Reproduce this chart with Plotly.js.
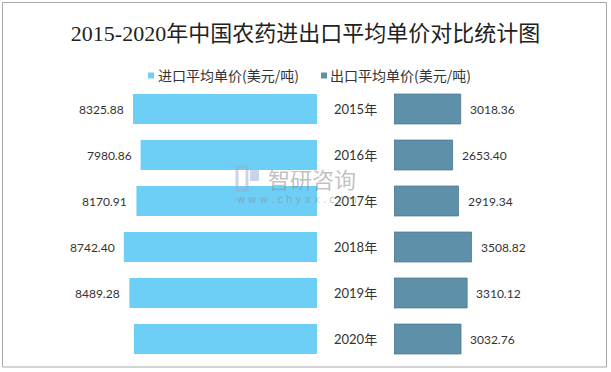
<!DOCTYPE html>
<html><head><meta charset="utf-8">
<script src="https://cdn.plot.ly/plotly-3.0.1.min.js"></script>
<style>html,body{margin:0;padding:0;background:#fff}#chart{width:611px;height:372px}</style>
</head><body><div id="chart"></div>
<script>
const years = ['2015','2016','2017','2018','2019','2020'];
const importPrice = [8325.88, 7980.86, 8170.91, 8742.40, 8489.28, 8280];
const importLabels = ['8325.88','7980.86','8170.91','8742.40','8489.28',''];
const exportPrice = [3018.36, 2653.40, 2919.34, 3508.82, 3310.12, 3032.76];
const exportLabels = ['3018.36','2653.40','2919.34','3508.82','3310.12','3032.76'];
const seriesNames = ['进口平均单价(美元/吨)','出口平均单价(美元/吨)'];
const titleText = '2015-2020年中国农药进出口平均单价对比统计图';

const W = 611, H = 372;
const k = 0.0221;            // px per unit
const impZero = 317, expZero = 394;
const cImp = '#6dcff6', cExp = '#5e91a9';
const cats = years.map(y => y + '年');

const traces = [
  {type:'bar', orientation:'h', y:cats, x:importPrice, xaxis:'x', yaxis:'y',
   marker:{color:cImp}, name:seriesNames[0], hoverinfo:'none'},
  {type:'bar', orientation:'h', y:cats, x:exportPrice, xaxis:'x2', yaxis:'y',
   marker:{color:cExp, line:{color:'#4a7a92', width:0.8}}, name:seriesNames[1], hoverinfo:'none'}
];

const numFont = {family:'Lato, "Noto Sans CJK SC", sans-serif', size:12, color:'#333'};
const ann = [];
cats.forEach((c,i) => {
  ann.push({xref:'paper', yref:'y', x:355/W, y:c, text:c, showarrow:false,
    xanchor:'center', yanchor:'middle', font:{family:'Lato, "Noto Sans CJK SC", sans-serif', size:13, color:'#333'}});
  if (importLabels[i]) ann.push({xref:'x', yref:'y', x:importPrice[i], y:c, text:importLabels[i], showarrow:false,
    xanchor:'right', yanchor:'middle', xshift:-7, font:numFont});
  if (exportLabels[i]) ann.push({xref:'x2', yref:'y', x:exportPrice[i], y:c, text:exportLabels[i], showarrow:false,
    xanchor:'left', yanchor:'middle', xshift:7, font:numFont});
});
// legend texts
const legFont = {family:'"Noto Sans CJK SC", sans-serif', size:14, color:'#333'};
ann.push({xref:'paper', yref:'paper', x:156/W, y:1-75/H, text:seriesNames[0], showarrow:false, xanchor:'left', yanchor:'middle', font:legFont});
ann.push({xref:'paper', yref:'paper', x:328/W, y:1-75/H, text:seriesNames[1], showarrow:false, xanchor:'left', yanchor:'middle', font:legFont});
// watermark
ann.push({xref:'paper', yref:'paper', x:266/W, y:1-178/H, text:'智研咨询', showarrow:false, xanchor:'left', yanchor:'middle',
  font:{family:'"Noto Sans CJK SC", sans-serif', size:22, color:'rgba(140,140,140,0.55)'}});
ann.push({xref:'paper', yref:'paper', x:235/W, y:1-199/H, text:'w w w . c h y x x . c o m', showarrow:false, xanchor:'left', yanchor:'middle',
  font:{family:'"DejaVu Sans", sans-serif', size:10, color:'rgba(140,140,140,0.55)'}});

const shapes = [
  {type:'rect', xref:'paper', yref:'paper', x0:2.5/W, x1:606.5/W, y0:1-367/H, y1:1-2.5/H, line:{color:'#a8a8a8', width:1}, fillcolor:'rgba(0,0,0,0)'},
  {type:'rect', xref:'paper', yref:'paper', x0:148/W, x1:154/W, y0:1-78.5/H, y1:1-72.5/H, line:{width:0}, fillcolor:cImp},
  {type:'rect', xref:'paper', yref:'paper', x0:321/W, x1:327/W, y0:1-78.5/H, y1:1-72.5/H, line:{width:0}, fillcolor:cExp},
  // watermark logo
  {type:'rect', xref:'paper', yref:'paper', x0:237/W, x1:247/W, y0:1-190/H, y1:1-167/H, line:{color:'rgba(150,170,205,0.5)', width:3}, fillcolor:'rgba(0,0,0,0)'},
  {type:'rect', xref:'paper', yref:'paper', x0:250/W, x1:259/W, y0:1-181/H, y1:1-170/H, line:{width:0}, fillcolor:'rgba(150,170,205,0.5)'}
];

const layout = {
  width:W, height:H, margin:{l:0, r:0, t:0, b:0},
  paper_bgcolor:'#fff', plot_bgcolor:'rgba(0,0,0,0)',
  showlegend:false, bargap:0.35,
  title:{text:titleText, x:0.5, xanchor:'center', y:1-33/H, yanchor:'middle', yref:'container',
    font:{family:'"Liberation Serif", "Noto Sans CJK SC", serif', size:22, color:'#222'}},
  xaxis:{domain:[0, impZero/W], range:[impZero/k, 0], visible:false, fixedrange:true},
  xaxis2:{domain:[expZero/W, 1], range:[0, (W-expZero)/k], visible:false, anchor:'y', fixedrange:true},
  yaxis:{domain:[10/H, 286/H], type:'category', categoryorder:'array', categoryarray:cats,
    range:[5.5, -0.5], visible:false, fixedrange:true},
  annotations:ann, shapes:shapes
};
Plotly.newPlot('chart', traces, layout, {staticPlot:true, displayModeBar:false});
</script></body></html>
